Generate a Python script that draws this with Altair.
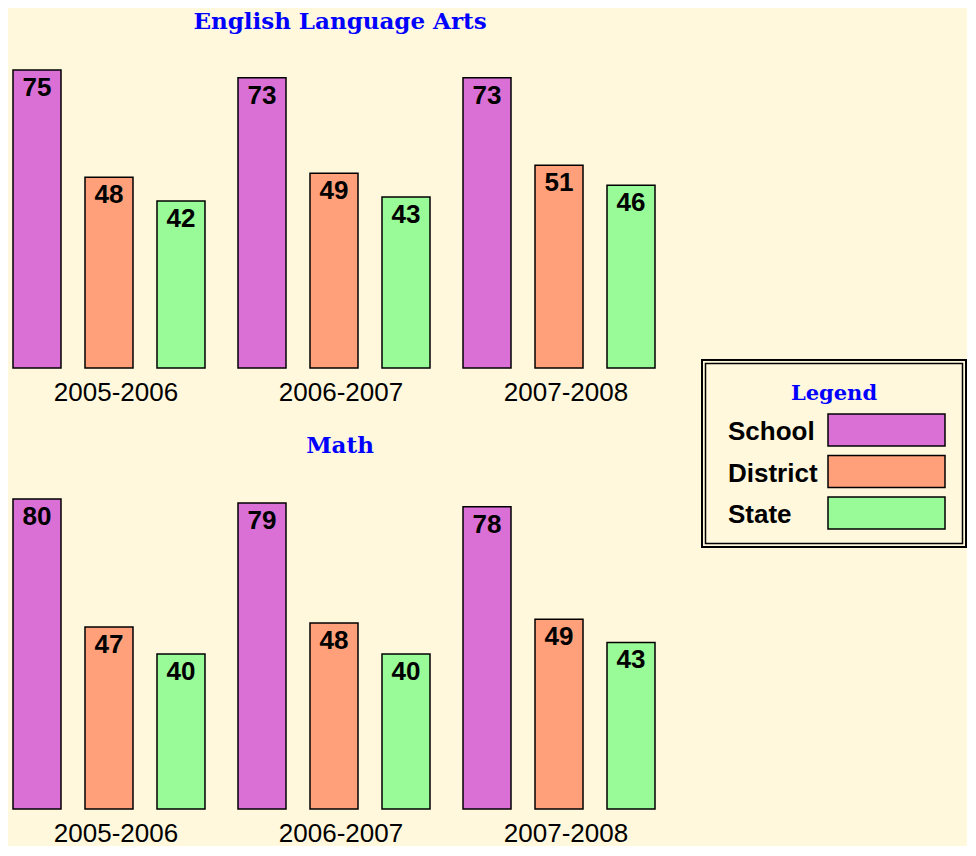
import altair as alt
import pandas as pd

years = ["2005-2006", "2006-2007", "2007-2008"]
series = ["School", "District", "State"]
colors = ["#DA70D6", "#FFA07A", "#98FB98"]

ela_school = [75, 73, 73]
ela_district = [48, 49, 51]
ela_state = [42, 43, 46]

math_school = [80, 79, 78]
math_district = [47, 48, 49]
math_state = [40, 40, 43]

TITLE_FONT = "DejaVu Serif"
LABEL_FONT = "Liberation Sans"
BLUE = "#0000FF"
BG = "#FFF8DC"

LEG_W = 264
LEG_H = 187


def long_table(s, d, st):
    rows = []
    for i, yr in enumerate(years):
        for name, vals in zip(series, [s, d, st]):
            rows.append({"year": yr, "series": name, "value": vals[i]})
    return pd.DataFrame(rows)


def panel(df, title, title_offset, plot_h):
    base = alt.Chart(df).encode(
        x=alt.X(
            "year:N",
            sort=years,
            scale=alt.Scale(domain=years, paddingInner=0.1467, paddingOuter=0.0222),
            axis=alt.Axis(
                title=None, domain=False, ticks=False, tickSize=0, labelPadding=11,
                labelFontSize=26, labelFont=LABEL_FONT, labelColor="black",
                labelAngle=0, labelOffset=7,
            ),
        ),
        xOffset=alt.XOffset(
            "series:N", sort=series,
            scale=alt.Scale(domain=series, paddingInner=1 / 3, paddingOuter=0),
        ),
        y=alt.Y("value:Q", scale=alt.Scale(domain=[0, 80]), axis=None),
    )
    bars = base.mark_bar(stroke="black", strokeWidth=1.5).encode(
        color=alt.Color("series:N", scale=alt.Scale(domain=series, range=colors), legend=None)
    )
    labels = base.mark_text(
        fontSize=26, fontWeight="bold", font=LABEL_FONT, color="black",
        baseline="alphabetic", dy=26,
    ).encode(text="value:Q")
    return alt.layer(bars, labels).properties(
        width=652, height=plot_h,
        title=alt.TitleParams(
            title, font=TITLE_FONT, fontSize=23, fontWeight="bold", color=BLUE,
            anchor="middle", offset=title_offset, dx=6,
        ),
    )


ela = panel(long_table(ela_school, ela_district, ela_state), "English Language Arts", 16, 318)
math = panel(long_table(math_school, math_district, math_state), "Math", 40, 310)

legend_df = pd.DataFrame({"series": series})
ly = alt.Y(
    "series:N", sort=series,
    scale=alt.Scale(domain=series, range=[54, 169], paddingInner=0.2289, paddingOuter=0),
    axis=None,
)
swatches = alt.Chart(legend_df).mark_rect(stroke="black", strokeWidth=1.5).encode(
    y=ly, x=alt.value(126), x2=alt.value(243),
    color=alt.Color("series:N", scale=alt.Scale(domain=series, range=colors), legend=None),
)
leg_text = alt.Chart(legend_df).mark_text(
    align="left", baseline="alphabetic", dy=10, fontSize=26, fontWeight="bold",
    font=LABEL_FONT, color="black",
).encode(y=ly, x=alt.value(26), text="series:N")
leg_title = alt.Chart(pd.DataFrame({"t": ["Legend"]})).mark_text(
    font=TITLE_FONT, fontSize=21, fontWeight="bold", color=BLUE, baseline="alphabetic",
).encode(x=alt.value(LEG_W / 2), y=alt.value(40), text="t:N")
inner = alt.Chart(pd.DataFrame({"a": [0]})).mark_rect(
    fill="white", fillOpacity=0, stroke="black", strokeWidth=1.5
).encode(
    x=alt.value(3.5), x2=alt.value(LEG_W - 3.5),
    y=alt.value(3.5), y2=alt.value(LEG_H - 3.5),
)

legend = alt.layer(inner, swatches, leg_text, leg_title).properties(
    width=LEG_W, height=LEG_H,
    view=alt.ViewBackground(stroke="black", strokeWidth=2),
)

spacer = alt.Chart(pd.DataFrame({"a": [0]})).mark_point(opacity=0).properties(width=LEG_W, height=289)

left = alt.vconcat(ela, math, spacing=30)
right = alt.vconcat(spacer, legend, spacing=20)
chart = (
    alt.hconcat(left, right, spacing=41)
    .properties(padding={"top": 3, "left": 0, "right": 0, "bottom": 0}, background=BG)
    .configure_view(stroke=None)
)

chart.save("out.html", embed_options={"renderer": "svg", "actions": False})
